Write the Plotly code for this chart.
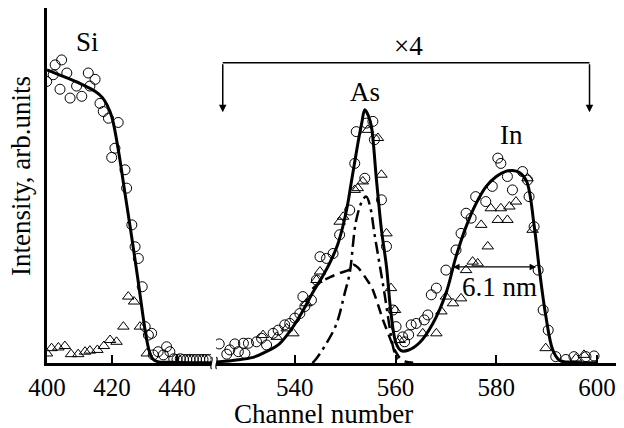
import plotly.graph_objects as go

# ---- Si region (left part of the broken axis) ----
si_fit_x = [400, 404, 408, 412, 415, 417, 418.5, 420, 422, 424, 426, 428, 429.5, 430.5, 431.5, 432.5, 434, 438, 444, 450.5]
si_fit_y = [83, 81.5, 80, 78.3, 76.8, 75.2, 73, 69.5, 60, 48, 36, 23.5, 13.5, 7.5, 3.3, 1.2, 0.4, 0.2, 0.1, 0.1]

si_circ_x = [399.9, 401.9, 402.5, 404.0, 404.5, 406.1, 407.1, 409.1, 410.7, 412.7, 413.2, 414.8, 416.3,
             417.3, 418.9, 419.9, 420.9, 421.9, 424.0, 424.5, 426.1, 427.1, 428.1, 429.3, 430.2, 431.2,
             432.2, 432.7, 434.2, 435.8, 436.8, 437.8, 439.0, 440.0, 441.0, 442.0, 443.0, 444.0, 445.0,
             446.0, 447.0, 448.0, 449.0, 450.0]
si_circ_y = [79.7, 81.6, 84.4, 77.5, 85.8, 82.1, 75.0, 78.4, 75.5, 82.1, 78.4, 80.3, 73.5,
             71.2, 69.3, 58.2, 60.8, 68.1, 54.7, 49.5, 39.1, 32.9, 29.6, 21.6, 10.3, 7.9,
             8.4, 2.3, 3.2, 2.3, 4.6, 3.2, 1.2, 1.0, 1.2, 1.0, 1.0, 1.0, 1.0,
             1.0, 1.0, 1.0, 1.0, 1.0]

si_tri_x = [400.0, 401.4, 403.5, 405.5, 407.4, 409.6, 411.7, 413.2, 415.5, 417.5, 419.4, 421.4, 423.5,
            425.0, 426.8, 428.6, 430.7]
si_tri_y = [2.7, 4.2, 4.4, 4.8, 2.5, 2.5, 3.2, 3.5, 3.7, 4.8, 6.5, 6.0, 10.3,
            18.8, 17.4, 10.3, 2.7]

# ---- As / In region (right part, shown x4) ----
fit_x = [524.5, 528, 531.7, 534, 537, 540, 541.5, 543.6, 545.5, 547, 548.5, 549.6, 550.5, 551.2, 552.5,
         553.3, 553.9, 554.6, 555.2, 556.2, 557.2, 558.2, 559.1, 560.1, 561.1, 562.5, 564.8, 567.4, 570,
         572, 574, 576, 578, 580, 582, 583.2, 584.5, 586, 587.5, 588.5, 589.8, 591.2, 592.5, 595, 600]
fit_y = [0.3, 0.8, 1.6, 3.0, 5.5, 11, 14.5, 20, 24.5, 28.5, 33.5, 39, 45, 51, 62,
         68, 71.7, 70, 67, 52, 37.7, 27.3, 14, 5.6, 3.5, 3.6, 5.8, 11.2, 19.7,
         30.1, 38.6, 45.2, 50, 52.8, 54.3, 54.5, 54, 51.5, 39, 27, 13.5, 3.7, 0.8, 0.2, 0.1]

as1_x = [543.5, 544.3, 546.3, 548.3, 549.9, 550.9, 552.2, 553.5, 554.2, 555, 555.8, 556.8, 557.8, 558.8,
         559.5, 560.3, 561.2]
as1_y = [0, 1.3, 5.6, 11.2, 19.7, 25.5, 40.5, 46.2, 47.1, 44, 36.7, 28.2, 19.7, 10.3,
         4.6, 1.2, 0.2]

as2_x = [543.5, 545, 547, 549, 550.9, 551.6, 552.4, 553.2, 554.2, 555.2, 556.4, 557.5, 558.5, 559.3,
         560.1, 561, 562, 563.5]
as2_y = [21.0, 22.8, 24.3, 25.5, 26.5, 27.8, 27.2, 25.9, 23.8, 21.6, 17, 12.2, 8.5, 5.5,
         3, 1.2, 0.4, 0.1]

circ_x = [525.0, 526.5, 527.1, 528.1, 528.8, 529.8, 530.1, 530.8, 532.4, 533.4, 534.4, 535.7, 536.7,
          538.0, 539.0, 540.0, 541.0, 541.6, 542.0, 543.3, 544.3, 545.0, 546.3, 547.6, 548.9, 550.9,
          551.9, 552.2, 553.9, 554.2, 555.5, 555.8, 557.2, 558.2, 559.5, 560.1, 561.4, 561.8, 562.6,
          563.1, 564.1, 565.7, 566.4, 567.1, 568.1, 570.0, 572.0, 573.0, 574.0, 575.0, 575.9, 577.9,
          579.2, 580.3, 580.9, 582.2, 583.2, 585.2, 586.2, 586.5, 587.5, 588.3, 589.3, 590.3, 591.8,
          593.8, 595.4, 597.8, 599.4]
circ_y = [5.4, 2.5, 3.7, 5.4, 3.2, 5.6, 2.7, 5.6, 6.0, 7.0, 5.1, 8.4, 9.3,
          10.8, 11.2, 12.7, 14.0, 18.8, 16.0, 17.8, 23.5, 30.1, 29.6, 31.0, 36.3, 43.3,
          56.5, 65.5, 52.3, 67.9, 68.4, 63.2, 46.2, 33.0, 15.0, 10.3, 7.4, 6.0, 8.0,
          10.8, 11.2, 12.2, 13.6, 19.3, 21.2, 26.3, 32.0, 36.7, 42.4, 41.0, 47.1, 45.7,
          50.0, 58.0, 56.5, 52.8, 49.0, 54.2, 51.8, 47.1, 38.6, 26.3, 15.0, 9.3, 1.8,
          1.0, 1.8, 1.8, 2.0]

tri_x = [533.7, 536.4, 538.4, 539.7, 542.3, 544.3, 545.0, 548.9, 549.6, 551.9, 552.5, 553.5, 554.5,
         556.5, 557.2, 558.2, 559.1, 559.9, 560.8, 565.4, 568.1, 569.1, 570.0, 571.4, 573.0, 574.0,
         575.3, 576.3, 577.0, 578.3, 578.9, 580.3, 580.9, 582.2, 582.6, 583.9, 586.2, 587.2, 589.8,
         595.8, 597.4]
tri_y = [7.9, 7.4, 9.8, 8.4, 16.9, 23.5, 25.9, 40.0, 41.4, 49.0, 49.5, 51.4, 66.0,
         63.7, 53.3, 36.7, 21.2, 15.0, 6.5, 8.4, 8.4, 14.6, 18.8, 16.9, 18.3, 26.3,
         28.7, 28.2, 39.1, 33.0, 43.8, 40.5, 43.8, 40.5, 44.3, 45.7, 52.3, 37.7, 4.2,
         1.3, 2.3]

fwhm_x = [571.1, 587.9]
fwhm_y = 27.2
bracket_x = [525.7, 598.5]
bracket_top, bracket_tip = 85.0, 71.0

FONT = "Liberation Serif"
circ = dict(symbol="circle-open", size=10, color="black", line=dict(width=1))
tri = dict(symbol="triangle-up-open", size=10, color="black", line=dict(width=1))

fig = go.Figure()
# left panel
fig.add_trace(go.Scatter(x=si_circ_x, y=si_circ_y, mode="markers", marker=circ, xaxis="x", yaxis="y"))
fig.add_trace(go.Scatter(x=si_tri_x, y=si_tri_y, mode="markers", marker=tri, xaxis="x", yaxis="y"))
fig.add_trace(go.Scatter(x=si_fit_x, y=si_fit_y, mode="lines", line=dict(color="black", width=3, shape="spline"),
                         xaxis="x", yaxis="y"))
# right panel
fig.add_trace(go.Scatter(x=circ_x, y=circ_y, mode="markers", marker=circ, xaxis="x2", yaxis="y"))
fig.add_trace(go.Scatter(x=tri_x, y=tri_y, mode="markers", marker=tri, xaxis="x2", yaxis="y"))
fig.add_trace(go.Scatter(x=as1_x, y=as1_y, mode="lines",
                         line=dict(color="black", width=2.5, dash="12px,5px,3px,5px", shape="spline"),
                         xaxis="x2", yaxis="y"))
fig.add_trace(go.Scatter(x=as2_x, y=as2_y, mode="lines",
                         line=dict(color="black", width=2.5, dash="10px,6px", shape="spline"),
                         xaxis="x2", yaxis="y"))
fig.add_trace(go.Scatter(x=fit_x, y=fit_y, mode="lines", line=dict(color="black", width=3, shape="spline"),
                         xaxis="x2", yaxis="y"))

# page body has an 8px margin, so the figure is drawn 8px smaller and positions are
# given in screenshot pixels (helpers turn them into paper fractions)
OFF = 8
W, H = 624 - OFF, 428 - OFF
L, R, T, B = 47, 620, 8, 363
def px(xp):
    return (xp - L) / (R - L)
def py(yp):
    return (B - yp) / (B - T)

axis_common = dict(showline=True, linecolor="black", linewidth=2.5, ticks="inside", ticklen=8,
                   tickwidth=1.5, tickcolor="black", showgrid=False, zeroline=False,
                   tickfont=dict(family=FONT, size=25, color="black"), ticklabelstandoff=0)

fig.update_layout(
    width=W, height=H,
    margin=dict(l=L - OFF, r=624 - R, t=T - OFF, b=428 - B),
    paper_bgcolor="white", plot_bgcolor="white",
    showlegend=False,
    xaxis=dict(domain=[0, px(211)], range=[400, 450.46], tickvals=[400, 420, 440], anchor="y", **axis_common),
    xaxis2=dict(domain=[px(216), 1], range=[524.36, 604.55], tickvals=[540, 560, 580, 600], anchor="y",
                **axis_common),
    yaxis=dict(domain=[0, 1], range=[0, 100.5], showline=True, linecolor="black", linewidth=2.5,
               showticklabels=False, ticks="", showgrid=False, zeroline=False),
)

shapes = []
for xb in (211.5, 216.5):
    x0, x1 = px(xb - 2.5), px(xb + 2.5)
    shapes.append(dict(type="path", xref="paper", yref="paper",
                       path=f"M {px(xb)},{py(357)} C {x1},{py(360)} {x0},{py(366)} {px(xb)},{py(369)}",
                       line=dict(color="black", width=1.2)))
shapes.append(dict(type="line", xref="x2", yref="y", x0=bracket_x[0], x1=bracket_x[1],
                   y0=bracket_top, y1=bracket_top, line=dict(color="black", width=1.5)))
fig.update_layout(shapes=shapes)

tfont = dict(family=FONT, size=27, color="black")
ann = [
    dict(x=px(21), y=py(176), xref="paper", yref="paper", text="Intensity, arb.units", textangle=-90,
         showarrow=False, font=tfont, xanchor="center", yanchor="middle"),
    dict(x=px(323), y=py(414), xref="paper", yref="paper", text="Channel number",
         showarrow=False, font=tfont, xanchor="center", yanchor="middle"),
    dict(x=412.6, y=90.9, xref="x", yref="y", text="Si", showarrow=False, font=tfont),
    dict(x=553.9, y=76.8, xref="x2", yref="y", text="As", showarrow=False, font=tfont),
    dict(x=583.0, y=64.6, xref="x2", yref="y", text="In", showarrow=False, font=tfont),
    dict(x=562.5, y=89.7, xref="x2", yref="y", text="×4", showarrow=False, font=tfont),
    dict(x=580.6, y=21.5, xref="x2", yref="y", text="6.1 nm", showarrow=False, font=tfont),
    dict(x=fwhm_x[1], y=fwhm_y, ax=fwhm_x[0], ay=fwhm_y, xref="x2", yref="y", axref="x2", ayref="y",
         text="", showarrow=True, arrowhead=2, arrowside="end+start", arrowsize=1, arrowwidth=1.3,
         arrowcolor="black"),
]
for bx in bracket_x:
    ann.append(dict(x=bx, y=bracket_tip, ax=bx, ay=bracket_top, xref="x2", yref="y", axref="x2", ayref="y",
                    text="", showarrow=True, arrowhead=2, arrowsize=1, arrowwidth=1.5, arrowcolor="black"))
fig.update_layout(annotations=ann)

fig.write_html("out.html")
